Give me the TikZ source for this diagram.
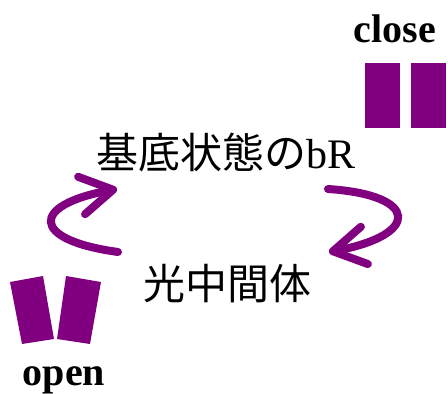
\documentclass[tikz,border=0pt]{standalone}
\usepackage{fontspec}
\setmainfont{Liberation Serif}
\newfontfamily\cjk{Noto Sans CJK JP}
\usetikzlibrary{arrows.meta}
\definecolor{vio}{RGB}{128,0,128}
\tikzset{
  lab/.style={font=\fontsize{40}{40}\selectfont\bfseries, inner sep=0pt, anchor=base},
  state/.style={font=\fontsize{42}{42}\selectfont, inner sep=0pt, anchor=base},
  bar/.style={fill=vio, draw=none},
  cyc/.style={draw=vio, line width=8pt, line cap=round,
    -{Straight Barb[length=32pt, width=38pt, line cap=round, line join=round]}}
}
\begin{document}
\begin{tikzpicture}[x=1pt,y=-1pt]
\useasboundingbox (0,0) rectangle (448,394);
% labels
\node[lab] (close) at (395,42) {close};
\node[lab] (open) at (64,385) {open};
% close bars
\fill[bar] (365,63) rectangle (400,128);
\fill[bar] (411,63) rectangle (446,128);
% open bars
\fill[bar] (10,282) -- (43,276) -- (54,339) -- (22,344) -- cycle;
\fill[bar] (66,276) -- (101,282) -- (90,344) -- (57,339) -- cycle;
% states
\node[state] (g) at (226,168) {{\cjk 基底状態の}bR};
\node[state] (m) at (227,299) {\cjk 光中間体};
% cycle arrows
\coordinate (a1s) at (118,252);
\coordinate (a1e) at (117,189);
\coordinate (a2s) at (328,189);
\coordinate (a2e) at (329,252);
\draw[cyc] (a1s) .. controls (30,240) and (30,205) .. (a1e);
\draw[cyc] (a2s) .. controls (420,195) and (420,235) .. (a2e);
\end{tikzpicture}
\end{document}
